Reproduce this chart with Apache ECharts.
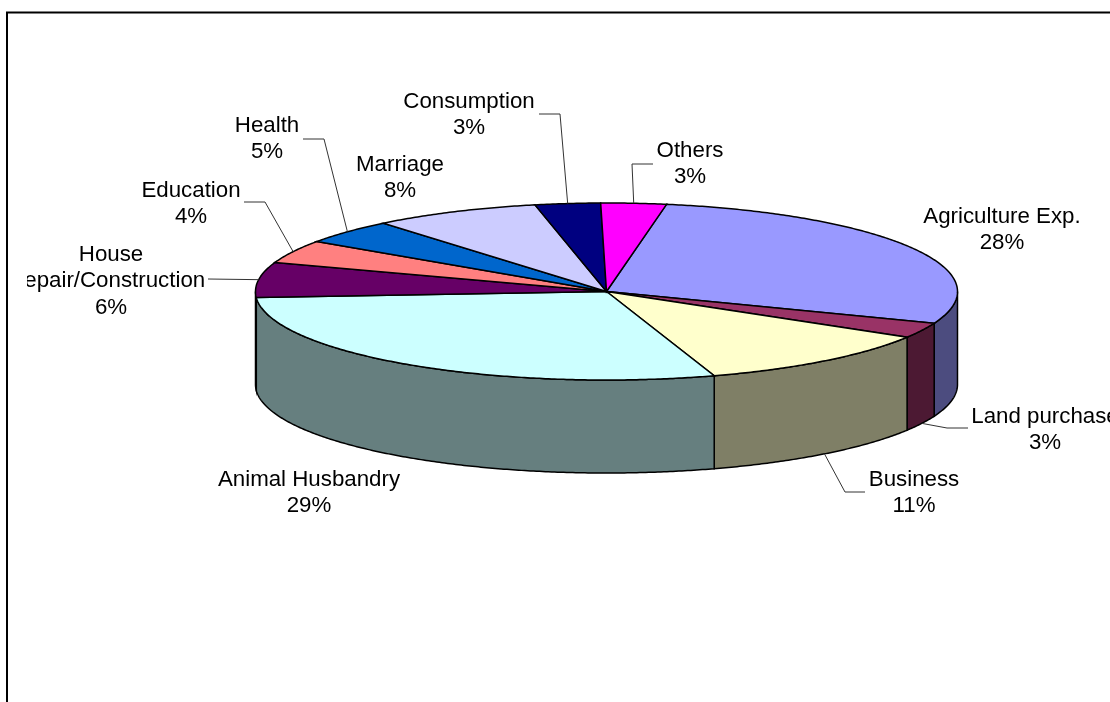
<!DOCTYPE html>
<html>
<head>
<meta charset="utf-8">
<style>
  html, body { margin: 0; padding: 0; background: #fff; }
  #chart { width: 1110px; height: 702px; }
</style>
<script src="https://cdn.jsdelivr.net/npm/echarts@6/dist/echarts.min.js"></script>
</head>
<body>
<div id="chart"></div>
<script>
// Slices, clockwise from Agriculture Exp.
const sliceNames = ['Agriculture Exp.', 'Land purchase', 'Business', 'Animal Husbandry',
  'House\nrepair/Construction', 'Education', 'Health', 'Marriage', 'Consumption', 'Others'];
const sliceValues = [28.1, 2.8, 11.4, 28.9, 6.4, 4.2, 4.5, 7.7, 3.0, 3.0];
const topColors = ['#9999ff', '#993366', '#ffffcc', '#ccffff', '#660066',
  '#ff8080', '#0066cc', '#ccccff', '#000080', '#ff00ff'];
const wallColors = ['#4c4c7f', '#4c1933', '#7f7f66', '#667f7f', '#330033',
  '#7f4040', '#003366', '#66667f', '#000040', '#7f007f'];

// Label layout: [center x, middle y], and the leader's bend points (label side first)
const labelCenters = [[1002, 230], [1045, 430], [914, 493], [309, 493],
  [111, 281], [191, 204], [267, 139], [400, 178], [469, 115], [690, 164]];
const leaderBends = [null, [[968, 428], [947, 428]], [[865, 492], [845, 492]], null,
  [[208, 279]], [[244, 202], [265, 202]], [[303, 139], [324, 139]], null,
  [[539, 114], [560, 114]], [[653, 164], [632, 164]]];

// Pie projection
const CX = 606.5, CY = 291.5, RX = 351, RY = 88.5, DEPTH = 93;
const START_DEG = 9.85;
const total = sliceValues.reduce((a, b) => a + b, 0);

// angle is clockwise from the top of the ellipse
function rimPoint(deg, drop) {
  const r = deg * Math.PI / 180;
  return [CX + RX * Math.sin(r), CY - RY * Math.cos(r) + (drop || 0)];
}
function sliceRange(i) {
  const before = sliceValues.slice(0, i).reduce((a, b) => a + b, 0);
  const a = START_DEG + before / total * 360;
  return [a, a + sliceValues[i] / total * 360];
}
function arc(a, b, drop) {
  const pts = [];
  const n = Math.max(2, Math.ceil(Math.abs(b - a) * 2));
  for (let k = 0; k <= n; k++) pts.push(rimPoint(a + (b - a) * k / n, drop));
  return pts;
}

function renderWall(params, api) {
  const [a, b] = sliceRange(api.value(0));
  // only the front half of the rim shows
  const from = Math.max(a, 90), to = Math.min(b, 270);
  if (from >= to) return null;
  return {
    type: 'polygon',
    shape: { points: arc(from, to, 0).concat(arc(to, from, DEPTH)) },
    style: { fill: wallColors[api.value(0)], stroke: '#000', lineWidth: 1.5 }
  };
}

function renderTop(params, api) {
  const [a, b] = sliceRange(api.value(0));
  return {
    type: 'polygon',
    shape: { points: [[CX, CY]].concat(arc(a, b, 0)) },
    style: { fill: topColors[api.value(0)], stroke: '#000', lineWidth: 1.5 }
  };
}

function renderLabel(params, api) {
  const i = api.value(0);
  const [a, b] = sliceRange(i);
  const mid = (a + b) / 2;
  const label = {
    type: 'text',
    x: labelCenters[i][0],
    y: labelCenters[i][1],
    style: {
      text: sliceNames[i] + '\n' + Math.round(sliceValues[i]) + '%',
      font: '22.3px "Liberation Sans", Arial, sans-serif',
      fill: '#000',
      align: 'center',
      verticalAlign: 'middle',
      lineHeight: 26.5
    }
  };
  // the House label runs past the plot's edge and gets cut off there
  if (sliceNames[i].indexOf('House') === 0) {
    label.clipPath = { type: 'rect', shape: { x: 27 - label.x, y: -60, width: 300, height: 120 } };
  }
  const children = [label];
  if (leaderBends[i]) {
    // the leader ends on the slice's rim, on the wall for the front slices
    const onFront = mid > 90 && mid < 270;
    children.push({
      type: 'polyline',
      shape: { points: leaderBends[i].concat([rimPoint(mid, onFront ? DEPTH : 0)]) },
      style: { fill: null, stroke: '#333', lineWidth: 1 }
    });
  }
  return { type: 'group', children };
}

const sliceIndex = sliceValues.map((v, i) => [i]);
const chart = echarts.init(document.getElementById('chart'));
chart.setOption({
  animation: false,
  backgroundColor: '#fff',
  graphic: [
    { type: 'polyline', z: 0,
      shape: { points: [[7, 702], [7, 12.5], [1110, 12.5]] },
      style: { fill: null, stroke: '#000', lineWidth: 2 } }
  ],
  series: [
    { type: 'custom', coordinateSystem: 'none', z: 2, silent: true, clip: false,
      data: sliceIndex, renderItem: renderWall },
    { type: 'custom', coordinateSystem: 'none', z: 3, silent: true, clip: false,
      data: sliceIndex, renderItem: renderTop },
    { type: 'custom', coordinateSystem: 'none', z: 4, silent: true, clip: false,
      data: sliceIndex, renderItem: renderLabel }
  ]
});
</script>
</body>
</html>
